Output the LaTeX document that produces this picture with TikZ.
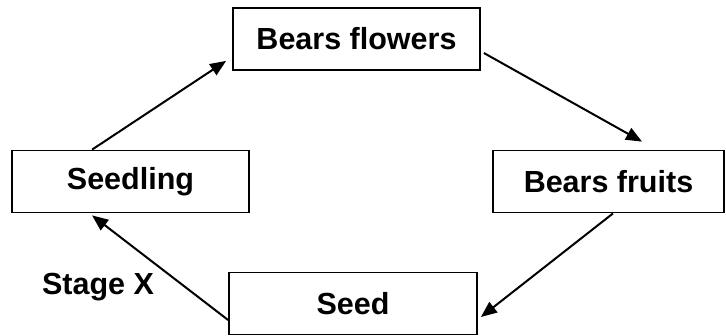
\documentclass[tikz,border=0pt]{standalone}
\usepackage{fontspec}
\setmainfont{Liberation Sans}
\usepackage{tikz}
\usetikzlibrary{arrows.meta, positioning, calc}

\begin{document}
\begin{tikzpicture}[
    x=1pt, y=-1pt,
    every node/.style={font=\fontsize{30.5}{34}\selectfont\bfseries},
    stage/.style={draw, line width=1.8pt, minimum height=62pt, align=center, inner sep=0pt},
    arrow/.style={-{Triangle[length=16pt, width=13pt]}, line width=2pt}
]
    \useasboundingbox (0,0) rectangle (726,335);

    % Stages
    \node[stage, minimum width=247pt] (flowers) at (356.5,39) {Bears flowers};
    \node[stage, minimum width=237pt] (seedling) at (130.5,181.5) {Seedling};
    \node[stage, minimum width=231pt] (fruits) at (608.5,181.5) {Bears fruits};
    \node[stage, minimum width=248pt] (seed) at (353,303.5) {Seed};

    % Label
    \node (stagex) at (98,287) {Stage X};

    % Arrows
    \draw[arrow] ([xshift=81pt]seedling.north west) -- ([xshift=-6pt, yshift=10pt]flowers.south west);
    \draw[arrow] ([xshift=3pt, yshift=-14pt]flowers.east) -- ([xshift=33.5pt, yshift=8pt]fruits.north);
    \draw[arrow] ([xshift=4.5pt]fruits.south) -- ([xshift=3pt, yshift=-13.5pt]seed.east);
    \draw[arrow] ([yshift=-16.5pt]seed.west) -- ([xshift=81pt, yshift=-2pt]seedling.south west);
\end{tikzpicture}
\end{document}
